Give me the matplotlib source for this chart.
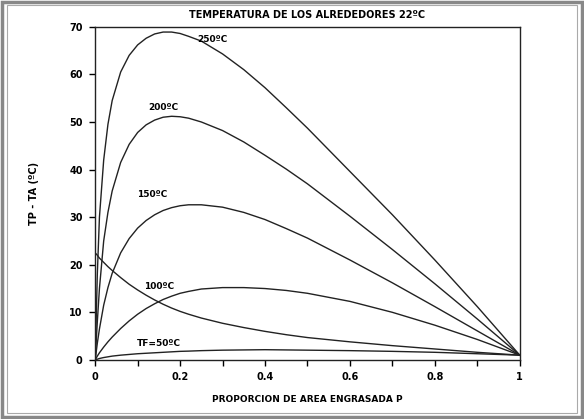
import numpy as np
import matplotlib
matplotlib.use("Agg")
import matplotlib.pyplot as plt
from matplotlib.patches import Rectangle

# values
p = [0.0, 0.005, 0.01, 0.02, 0.03, 0.04, 0.06, 0.08, 0.10, 0.12, 0.14, 0.16, 0.18,
     0.2, 0.22, 0.25, 0.3, 0.35, 0.4, 0.45, 0.5, 0.6, 0.7, 0.8, 0.9, 1.0]

t250 = [0.0, 18.0, 30.0, 42.0, 49.5, 54.5, 60.5, 64.0, 66.2, 67.6, 68.5, 68.9, 68.9,
        68.6, 68.0, 67.0, 64.3, 61.0, 57.2, 53.0, 48.7, 39.6, 30.5, 21.0, 11.2, 1.0]
t200 = [0.0, 8.0, 15.0, 25.0, 31.0, 35.5, 41.5, 45.3, 47.8, 49.4, 50.4, 51.0, 51.2,
        51.1, 50.8, 50.0, 48.2, 45.8, 43.0, 40.1, 37.0, 30.2, 23.2, 16.0, 8.6, 1.0]
t150 = [0.0, 3.5, 6.5, 11.5, 15.2, 18.2, 22.5, 25.5, 27.7, 29.3, 30.5, 31.4, 32.0,
        32.4, 32.6, 32.6, 32.1, 31.0, 29.5, 27.6, 25.6, 21.0, 16.2, 11.2, 6.1, 1.0]
t100 = [0.0, 0.8, 1.5, 2.7, 3.8, 4.8, 6.6, 8.2, 9.6, 10.8, 11.8, 12.7, 13.4,
        14.0, 14.4, 14.9, 15.2, 15.2, 15.0, 14.6, 14.0, 12.3, 10.0, 7.3, 4.3, 1.0]
t50 = [0.0, 0.15, 0.3, 0.5, 0.65, 0.8, 1.0, 1.15, 1.3, 1.4, 1.5, 1.6, 1.7,
       1.8, 1.85, 1.95, 2.05, 2.1, 2.15, 2.1, 2.05, 1.95, 1.8, 1.6, 1.3, 1.0]
tdec = [22.5, 22.0, 21.4, 20.5, 19.6, 18.8, 17.3, 15.9, 14.7, 13.6, 12.6, 11.7, 10.9,
        10.2, 9.6, 8.8, 7.7, 6.8, 6.0, 5.3, 4.7, 3.8, 3.0, 2.3, 1.6, 1.0]

curve_labels = ["250ºC", "200ºC", "150ºC", "100ºC", "TF=50ºC"]
label_pos = [(0.275, 67.4), (0.16, 53.0), (0.134, 34.8), (0.15, 15.4), (0.15, 3.4)]

xticks = [0, 0.2, 0.4, 0.6, 0.8, 1]
xtick_labels = ["0", "0.2", "0.4", "0.6", "0.8", "1"]
yticks = [0, 10, 20, 30, 40, 50, 60, 70]

fig = plt.figure(figsize=(5.84, 4.19), dpi=100, facecolor="white")
ax = fig.add_axes([0.163, 0.141, 0.727, 0.795])

for ys in [t250, t200, t150, t100, t50, tdec]:
    ax.plot(p, ys, color="#222222", linewidth=1.0)

for lab, (xx, yy) in zip(curve_labels, label_pos):
    ax.text(xx, yy, lab, fontsize=6.5, ha="center", va="center", fontweight="bold")

ax.set_xlim(0, 1)
ax.set_ylim(0, 70)
ax.set_xticks(xticks)
ax.set_xticklabels(xtick_labels, fontsize=7, fontweight="bold")
ax.set_xticks(np.arange(0.1, 1.0, 0.2), minor=True)
ax.set_yticks(yticks)
ax.set_yticklabels([str(v) for v in yticks], fontsize=7, fontweight="bold")
ax.tick_params(which="both", direction="out", length=4, width=1, pad=5)

for s in ax.spines.values():
    s.set_linewidth(1.0)
    s.set_color("#222222")

ax.set_title("TEMPERATURA DE LOS ALREDEDORES 22ºC", fontsize=7, fontweight="bold", pad=6)
ax.set_xlabel("PROPORCION DE AREA ENGRASADA P", fontsize=6.5, fontweight="bold", labelpad=9)
ax.set_ylabel("TP - TA (ºC)", fontsize=7, fontweight="bold", labelpad=22)

# scanned page frame
fig.patches.append(Rectangle((0.004, 0.005), 0.992, 0.99, transform=fig.transFigure,
                             fill=False, edgecolor="#888888", linewidth=2.5))
fig.patches.append(Rectangle((0.012, 0.015), 0.976, 0.972, transform=fig.transFigure,
                             fill=False, edgecolor="#aaaaaa", linewidth=0.8))

fig.savefig("out.png", dpi=100, facecolor="white")
